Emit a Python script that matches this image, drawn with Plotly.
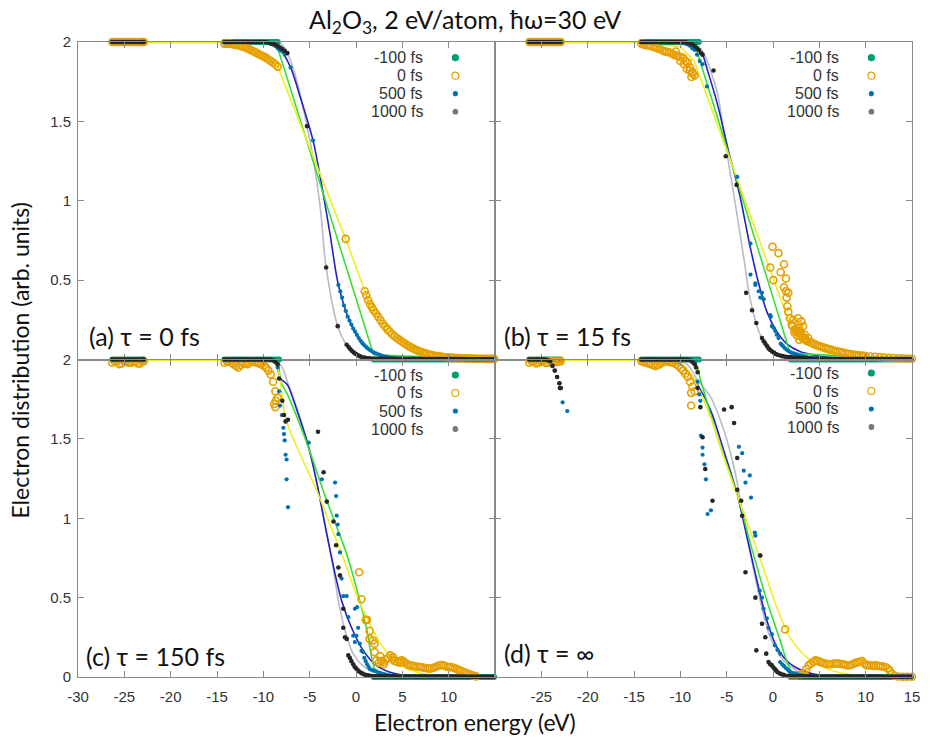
import plotly.graph_objects as go

# ---------------- shared energy grids (eV) ----------------
E_O2S = [-26.3, -26.05, -25.8, -25.55, -25.3, -25.05, -24.8, -24.55, -24.3, -24.05,
         -23.8, -23.55, -23.3, -23.05, -22.9]
E_VB = [-14.2, -13.95, -13.7, -13.45, -13.2, -12.95, -12.7, -12.45, -12.2, -11.95,
        -11.7, -11.45, -11.2, -10.95, -10.7, -10.45, -10.2, -9.95, -9.7, -9.45,
        -9.2, -8.95, -8.7, -8.45]
E_CB = [1.9, 2.15, 2.4, 2.65, 2.9, 3.15, 3.4, 3.65, 3.9, 4.15,
        4.4, 4.65, 4.9, 5.15, 5.4, 5.65, 5.9, 6.15, 6.4, 6.65,
        6.9, 7.15, 7.4, 7.65, 7.9, 8.15, 8.4, 8.65, 8.9, 9.15,
        9.4, 9.65, 9.9, 10.15, 10.4, 10.65, 10.9, 11.15, 11.4, 11.65,
        11.9, 12.15, 12.4, 12.65, 12.9, 13.15, 13.4, 13.65, 13.9, 14.15,
        14.4, 14.65, 14.9]

O2S_FULL = [2.0, 2.0, 2.0, 2.0, 2.0, 2.0, 2.0, 2.0, 2.0, 2.0, 2.0, 2.0, 2.0, 2.0, 2.0]
VB_FULL = [2.0, 2.0, 2.0, 2.0, 2.0, 2.0, 2.0, 2.0, 2.0, 2.0, 2.0, 2.0,
           2.0, 2.0, 2.0, 2.0, 2.0, 2.0, 2.0, 2.0, 2.0, 2.0, 2.0, 2.0]
CB_EMPTY = [0.0, 0.0, 0.0, 0.0, 0.0, 0.0, 0.0, 0.0, 0.0, 0.0,
            0.0, 0.0, 0.0, 0.0, 0.0, 0.0, 0.0, 0.0, 0.0, 0.0,
            0.0, 0.0, 0.0, 0.0, 0.0, 0.0, 0.0, 0.0, 0.0, 0.0,
            0.0, 0.0, 0.0, 0.0, 0.0, 0.0, 0.0, 0.0, 0.0, 0.0,
            0.0, 0.0, 0.0, 0.0, 0.0, 0.0, 0.0, 0.0, 0.0, 0.0,
            0.0, 0.0, 0.0]
CB_RESID = [0.004, 0.004, 0.004, 0.004, 0.004, 0.004, 0.004, 0.004, 0.004, 0.004,
            0.0035, 0.0035, 0.0035, 0.0035, 0.0035, 0.0035, 0.0035, 0.0035, 0.0035, 0.0035,
            0.003, 0.003, 0.003, 0.003, 0.003, 0.003, 0.003, 0.003, 0.003, 0.003,
            0.0025, 0.0025, 0.0025, 0.0025, 0.0025, 0.0025, 0.0025, 0.0025, 0.0025, 0.0025,
            0.002, 0.002, 0.002, 0.002, 0.002, 0.002, 0.002, 0.002, 0.002, 0.002,
            0.002, 0.002, 0.002]
CB_TAIL_40 = [0.003, 0.003, 0.003, 0.003, 0.003, 0.003, 0.003, 0.003, 0.003, 0.003,
              0.003, 0.003, 0.003, 0.003, 0.003, 0.003, 0.003, 0.003, 0.003, 0.003,
              0.003, 0.003, 0.003, 0.003, 0.003, 0.003, 0.003, 0.003, 0.003, 0.003,
              0.003, 0.003, 0.003, 0.003, 0.003, 0.003, 0.003, 0.003, 0.003, 0.003]

SERIES_NAMES = ["-100 fs", "0 fs", "500 fs", "1000 fs"]
PANEL_LABELS = ["(a) τ = 0 fs", "(b) τ = 15 fs", "(c) τ = 150 fs", "(d) τ = ∞"]
X_TICKS = [-30, -25, -20, -15, -10, -5, 0, 5, 10, 15]
Y_TICKS = [0, 0.5, 1, 1.5, 2]

# ---------------- panel (a) tau = 0 fs ----------------
A_M100_EDGE_X = [-8.6]
A_M100_EDGE_Y = [2.0]
A_0_VB_Y = [1.99, 1.99, 1.99, 1.988, 1.985, 1.982, 1.98, 1.975, 1.97, 1.965,
            1.96, 1.952, 1.945, 1.938, 1.93, 1.922, 1.915, 1.908, 1.90, 1.89,
            1.88, 1.87, 1.86, 1.845]
A_0_EDGE_X = [-1.12, 0.94, 1.1, 1.3, 1.5, 1.7]
A_0_EDGE_Y = [0.76, 0.43, 0.405, 0.375, 0.35, 0.33]
A_0_CB_Y = [0.31, 0.29, 0.27, 0.247, 0.225, 0.207, 0.19, 0.175, 0.16, 0.147,
            0.135, 0.125, 0.115, 0.105, 0.095, 0.086, 0.078, 0.07, 0.063, 0.056,
            0.05, 0.045, 0.04, 0.036, 0.032, 0.028, 0.025, 0.022, 0.02, 0.018,
            0.016, 0.0145, 0.013, 0.012, 0.011, 0.01, 0.009, 0.0085, 0.008, 0.0075,
            0.007, 0.0065, 0.006, 0.0055, 0.005, 0.005, 0.005, 0.0045, 0.004, 0.004,
            0.004, 0.004, 0.004]
A_500_VB_Y = [2.0, 2.0, 2.0, 2.0, 2.0, 2.0, 2.0, 2.0, 2.0, 2.0, 2.0, 2.0,
              2.0, 2.0, 2.0, 2.0, 2.0, 2.0, 1.998, 1.995, 1.99, 1.985, 1.975, 1.96]
A_500_EDGE_X = [-8.2, -7.95, -7.7, -7.06, -4.64, -1.9, -1.7, -1.5, -1.3, -1.1, -0.9, -0.7, -0.5,
                -0.3, -0.1, 0.1, 0.3, 0.5, 0.7, 0.9, 1.1, 1.3, 1.5, 1.7]
A_500_EDGE_Y = [1.95, 1.94, 1.92, 1.84, 1.38, 0.47, 0.43, 0.39, 0.34, 0.305, 0.27, 0.245, 0.22,
                0.195, 0.175, 0.155, 0.135, 0.118, 0.103, 0.09, 0.078, 0.068, 0.06, 0.052]
A_500_CB_Y = [0.045, 0.039, 0.033, 0.027, 0.022, 0.018, 0.015, 0.012, 0.010, 0.008,
              0.007, 0.006, 0.005] + CB_TAIL_40
A_1000_VB_Y = [2.0, 2.0, 2.0, 2.0, 2.0, 2.0, 2.0, 2.0, 2.0, 2.0, 2.0, 2.0,
               2.0, 2.0, 2.0, 2.0, 2.0, 2.0, 1.998, 1.995, 1.99, 1.988, 1.982, 1.975]
A_1000_EDGE_X = [-8.2, -7.95, -7.7, -7.4, -5.28, -3.22, -1.97, -1.01, -0.8, -0.6, -0.4, -0.2,
                 0.0, 0.2, 0.4, 0.6, 0.8, 1.0, 1.2, 1.4, 1.6]
A_1000_EDGE_Y = [1.965, 1.955, 1.945, 1.93, 1.47, 0.58, 0.21, 0.093, 0.078, 0.065, 0.052, 0.042,
                 0.034, 0.027, 0.021, 0.016, 0.012, 0.01, 0.008, 0.007, 0.006]

A_FIT_YEL_X = [-26.3, -14.2, -12.75, -10.97, -9.55, -8.48, -1.12, 0.94, 1.47, 2.4, 3.25, 4.2, 5.03, 6.0, 6.8, 8.6, 10.5, 12.1, 15.0]
A_FIT_YEL_Y = [1.995, 1.995, 1.98, 1.94, 1.90, 1.85, 0.76, 0.43, 0.35, 0.27, 0.20, 0.145, 0.114, 0.075, 0.05, 0.02, 0.01, 0.006, 0.004]
A_FIT_GRN_X = [-14.2, -8.6, 1.9, 15.0]
A_FIT_GRN_Y = [2.0, 1.99, 0.03, 0.0]
A_FIT_BLU_X = [-14.2, -9.2, -8.13, -7.06, -6.0, -4.64, -3.86, -2.8, -1.9, -0.66, 0.77, 2.9, 5.0, 15.0]
A_FIT_BLU_Y = [2.0, 2.0, 1.95, 1.84, 1.65, 1.38, 1.15, 0.79, 0.47, 0.24, 0.093, 0.02, 0.005, 0.0]
A_FIT_GRY_X = [-14.2, -8.5, -7.77, -6.7, -5.28, -4.57, -3.86, -3.22, -1.97, -1.01, 0.4, 2.2, 15.0]
A_FIT_GRY_Y = [2.0, 2.0, 1.97, 1.82, 1.47, 1.25, 0.96, 0.58, 0.21, 0.093, 0.02, 0.005, 0.0]

# ---------------- panel (b) tau = 15 fs ----------------
B_M100_EDGE_X = [-8.2, -8.0]
B_M100_EDGE_Y = [2.0, 2.0]
B_0_VB_Y = [1.99, 1.985, 1.98, 1.978, 1.975, 1.97, 1.965, 1.96, 1.955, 1.948,
            1.94, 1.938, 1.935, 1.928, 1.92, 1.915, 1.91, 1.905, 1.90, 1.88,
            1.87, 1.84, 1.81, 1.79]
B_0_EDGE_X = [-10.5, -10.0, -9.6, -9.3, -9.0, -8.8, -8.66]
B_0_EDGE_Y = [1.94, 1.88, 1.86, 1.83, 1.82, 1.78, 1.80]
B_0_CB_X = [-0.3, -0.05, 0.05, 0.59, 0.83, 1.19, 1.4, 1.19, 1.4, 1.65, 1.47, 1.55, 1.65, 1.83,
            2.19, 2.72, 3.07, 2.0, 2.54, 2.9, 3.25, 2.83, 3.43, 3.8, 2.3, 2.6, 3.1, 3.6,
            2.4, 2.7, 3.0, 3.3, 3.5, 3.7, 2.1, 2.45, 2.8, 3.15,
            4.0, 4.25, 4.5, 4.75, 5.0, 5.25, 5.5, 5.75, 6.0, 6.25, 6.5, 6.75, 7.0, 7.25, 7.5,
            7.75, 8.0, 8.25, 8.5, 8.75, 9.0, 9.25, 9.5, 9.75, 10.0, 10.5, 11.0, 11.5, 12.0,
            12.5, 13.0, 13.5, 14.0, 14.5, 15.0]
B_0_CB_Y = [0.58, 0.71, 0.50, 0.67, 0.55, 0.60, 0.51, 0.455, 0.43, 0.42, 0.39, 0.335, 0.30, 0.26,
            0.25, 0.26, 0.24, 0.22, 0.20, 0.18, 0.21, 0.125, 0.156, 0.135, 0.17, 0.15, 0.14, 0.12,
            0.19, 0.17, 0.16, 0.13, 0.125, 0.115, 0.21, 0.18, 0.2, 0.15,
            0.11, 0.104, 0.097, 0.09, 0.085, 0.08, 0.075, 0.071, 0.066, 0.062, 0.058, 0.054, 0.05,
            0.047, 0.044, 0.041, 0.038, 0.035, 0.032, 0.03, 0.028, 0.026, 0.025, 0.023, 0.022,
            0.019, 0.017, 0.015, 0.012, 0.01, 0.009, 0.008, 0.007, 0.006, 0.005]
B_500_VB_Y = [2.0, 2.0, 2.0, 2.0, 2.0, 2.0, 2.0, 2.0, 2.0, 2.0, 2.0, 2.0,
              2.0, 2.0, 2.0, 2.0, 2.0, 2.0, 1.995, 1.99, 1.985, 1.975, 1.96, 1.95]
B_500_EDGE_X = [-8.2, -7.9, -7.6, -7.13, -3.86, -2.43, -2.43, -1.9, -1.9, -1.55, -1.37, -1.19, -1.19,
                -1.01, -0.3, -0.23, -0.12, 0.05, 0.23, 0.4, 0.59, 0.83, 0.94, 1.1, 1.3, 1.5, 1.7]
B_500_EDGE_Y = [1.92, 1.88, 1.86, 1.72, 1.15, 0.73, 0.535, 0.48, 0.47, 0.43, 0.39, 0.42, 0.39,
                0.38, 0.28, 0.27, 0.21, 0.2, 0.18, 0.156, 0.135, 0.10, 0.093, 0.083, 0.07, 0.06, 0.052]
B_500_CB_Y = [0.045, 0.04, 0.035, 0.03, 0.025, 0.021, 0.018, 0.015, 0.012, 0.01,
              0.008, 0.007, 0.006] + CB_TAIL_40
B_1000_VB_Y = [2.0, 2.0, 2.0, 2.0, 2.0, 2.0, 2.0, 2.0, 2.0, 2.0, 2.0, 2.0,
               2.0, 2.0, 2.0, 2.0, 2.0, 2.0, 2.0, 1.998, 1.995, 1.99, 1.985, 1.975]
B_1000_EDGE_X = [-8.2, -8.0, -7.77, -7.6, -6.42, -5.1, -3.93, -2.9, -2.26, -1.8, -1.19, -1.0,
                 -0.83, -0.65, -0.48, -0.3, -0.1, 0.1, 0.3, 0.5, 0.77, 1.0, 1.3, 1.6]
B_1000_EDGE_Y = [1.96, 1.95, 1.93, 1.92, 1.82, 1.28, 1.10, 0.42, 0.31, 0.23, 0.135, 0.115,
                 0.10, 0.085, 0.07, 0.06, 0.05, 0.043, 0.035, 0.03, 0.025, 0.021, 0.018, 0.016]
B_1000_CB_Y = [0.015, 0.013, 0.012, 0.011, 0.01, 0.009, 0.008, 0.007, 0.006, 0.0055,
               0.005, 0.0045, 0.004] + CB_TAIL_40

B_FIT_YEL_X = [-26.3, -14.2, -10.0, -8.5, 1.47, 2.5, 4.0, 6.0, 9.0, 15.0]
B_FIT_YEL_Y = [1.995, 1.995, 1.97, 1.88, 0.28, 0.15, 0.08, 0.04, 0.015, 0.004]
B_FIT_GRN_X = [-14.2, -8.4, 1.85, 15.0]
B_FIT_GRN_Y = [2.0, 1.98, 0.04, 0.0]
B_FIT_BLU_X = [-14.2, -9.5, -8.5, -8.0, -7.6, -7.06, -6.0, -4.75, -3.68, -2.43, -1.55, -0.66, 0.4, 1.47, 2.9, 4.67, 6.8, 15.0]
B_FIT_BLU_Y = [2.0, 2.0, 1.98, 1.95, 1.92, 1.82, 1.61, 1.30, 1.06, 0.70, 0.48, 0.30, 0.177, 0.10, 0.05, 0.025, 0.01, 0.003]
B_FIT_GRY_X = [-14.2, -9.0, -8.0, -7.4, -6.0, -5.25, -4.29, -3.15, -2.43, -1.37, 0.05, 1.8, 15.0]
B_FIT_GRY_Y = [2.0, 2.0, 1.97, 1.92, 1.68, 1.40, 1.06, 0.64, 0.37, 0.156, 0.05, 0.012, 0.0]

# ---------------- panel (c) tau = 150 fs ----------------
C_M100_EDGE_X = [-8.3]
C_M100_EDGE_Y = [2.0]
C_0_O2S_Y = [1.98, 1.99, 1.99, 1.97, 1.975, 1.99, 1.99, 1.98, 1.98, 1.985, 1.985, 1.975, 1.975, 1.99, 1.99]
C_0_VB_Y = [1.98, 1.99, 1.99, 1.98, 1.97, 1.96, 1.95, 1.965, 1.98, 1.975,
            1.97, 1.98, 1.99, 1.985, 1.98, 1.975, 1.97, 1.96, 1.95, 1.93,
            1.905, 1.86, 1.80, 1.76]
C_0_EDGE_X = [-8.83, -8.65, -8.7, 0.34, 0.59, 1.05, 1.19, 1.47, 1.47, 1.83, 2.0, 2.0,
              2.6, 3.0, 4.0, 4.8]
C_0_EDGE_Y = [1.72, 1.74, 1.70, 0.66, 0.49, 0.36, 0.36, 0.29, 0.24, 0.23, 0.21, 0.157,
              0.13, 0.08, 0.125, 0.09]
C_0_CB_X = [2.2, 2.45, 2.7, 2.95, 3.2, 3.45, 3.7, 3.95, 4.2, 4.45,
            4.7, 4.95, 5.2, 5.45, 5.7, 5.95, 6.2, 6.45, 6.7, 6.95,
            7.2, 7.45, 7.7, 7.95, 8.2, 8.45, 8.7, 8.95, 9.2, 9.45,
            9.7, 9.95, 10.2, 10.45, 10.7, 10.95, 11.2, 11.45, 11.7, 11.95,
            12.2, 12.45, 12.7, 12.95]
C_0_CB_Y = [0.105, 0.09, 0.1, 0.094, 0.11, 0.12, 0.136, 0.11, 0.1, 0.094,
            0.1, 0.105, 0.095, 0.085, 0.075, 0.072, 0.07, 0.066, 0.064, 0.063,
            0.06, 0.057, 0.055, 0.053, 0.055, 0.06, 0.066, 0.072, 0.075, 0.074,
            0.068, 0.063, 0.062, 0.06, 0.055, 0.048, 0.042, 0.036, 0.03, 0.024,
            0.019, 0.013, 0.008, 0.004]
C_500_VB_Y = [2.0, 2.0, 2.0, 2.0, 2.0, 2.0, 2.0, 2.0, 2.0, 2.0, 2.0, 2.0,
              2.0, 2.0, 2.0, 2.0, 2.0, 2.0, 2.0, 2.0, 2.0, 1.995, 1.99, 1.95]
C_500_EDGE_X = [-8.3, -8.2, -8.0, -7.84, -7.77, -7.7, -7.6, -7.49, -7.49, -7.34, -5.1, -3.68, -2.26,
                -2.15, -2.08, -1.97, -1.9, -1.73, -1.55, -1.37, -1.01, -0.83, -0.12, -0.3, 0.05,
                -0.12, 0.23, 0.4, 0.12, 0.77, 0.59, 0.9, 1.05, 1.2, 1.35, 1.5, 1.7]
C_500_EDGE_Y = [1.80, 1.71, 1.65, 1.57, 1.53, 1.49, 1.40, 1.37, 1.245, 1.07, 1.476, 1.245, 1.225,
                1.14, 1.016, 0.96, 0.90, 0.785, 0.62, 0.51, 0.51, 0.377, 0.43, 0.26, 0.26,
                0.22, 0.31, 0.21, 0.44, 0.157, 0.165, 0.12, 0.1, 0.08, 0.065, 0.05, 0.045]
C_500_CB_Y = [0.04, 0.035, 0.03, 0.025, 0.02, 0.016, 0.012, 0.01, 0.008, 0.007,
              0.006, 0.005, 0.005] + CB_TAIL_40
C_1000_VB_Y = [2.0, 2.0, 2.0, 2.0, 2.0, 2.0, 2.0, 2.0, 2.0, 2.0, 2.0, 2.0,
               2.0, 2.0, 2.0, 2.0, 2.0, 2.0, 2.0, 2.0, 1.998, 1.995, 1.985, 1.97]
C_1000_EDGE_X = [-8.3, -7.95, -7.77, -7.6, -7.34, -4.1, -3.5, -3.15, -2.43, -2.15, -1.9, -1.73,
                 -1.37, -1.37, -1.19, -1.0, -0.83, -0.66, -0.5, -0.3, -0.15, 0.0, 0.15, 0.3,
                 0.5, 0.7, 0.9, 1.1, 1.3, 1.6]
C_1000_EDGE_Y = [1.88, 1.74, 1.65, 1.61, 1.62, 1.545, 1.29, 1.105, 0.98, 0.83, 0.69, 0.64,
                 0.43, 0.31, 0.25, 0.24, 0.136, 0.12, 0.1, 0.08, 0.065, 0.055, 0.045, 0.036,
                 0.028, 0.021, 0.016, 0.012, 0.01, 0.008]

C_FIT_YEL_X = [-26.3, -14.2, -9.2, -8.5, -7.6, -6.0, -4.2, -2.8, -1.37, 0.05, 1.47, 2.9, 4.3, 6.45, 8.6, 15.0]
C_FIT_YEL_Y = [1.995, 1.995, 1.99, 1.95, 1.63, 1.40, 1.17, 0.96, 0.75, 0.52, 0.335, 0.19, 0.094, 0.031, 0.01, 0.0]
C_FIT_GRN_X = [-14.2, -8.6, -8.13, -7.4, -5.28, -3.15, -1.01, 0.23, 1.12, 1.76, 2.19, 3.25, 15.0]
C_FIT_GRN_Y = [2.0, 1.99, 1.86, 1.78, 1.47, 1.11, 0.775, 0.52, 0.31, 0.105, 0.031, 0.01, 0.0]
C_FIT_BLU_X = [-14.2, -9.0, -8.5, -8.13, -7.4, -6.35, -5.1, -4.2, -3.15, -2.26, -1.55, -0.48, 0.77, 2.19, 3.6, 5.35, 15.0]
C_FIT_BLU_Y = [2.0, 2.0, 1.95, 1.88, 1.84, 1.675, 1.445, 1.215, 0.90, 0.65, 0.48, 0.31, 0.168, 0.073, 0.031, 0.01, 0.0]
C_FIT_GRY_X = [-14.2, -9.0, -8.2, -7.8, -7.4, -6.0, -4.57, -3.5, -2.6, -1.9, -1.19, -0.3, 1.12, 2.9, 15.0]
C_FIT_GRY_Y = [2.0, 2.0, 1.97, 1.93, 1.86, 1.63, 1.32, 1.005, 0.733, 0.48, 0.293, 0.147, 0.053, 0.021, 0.0]

# ---------------- panel (d) tau = infinity ----------------
D_M100_EDGE_X = [-8.2, -8.0]
D_M100_EDGE_Y = [2.0, 2.0]
D_0_O2S_Y = [1.98, 1.99, 1.99, 1.975, 1.98, 1.99, 1.99, 1.98, 1.98, 1.99, 1.99, 1.985, 1.985, 1.99, 1.99]
D_0_VB_Y = [1.99, 1.985, 1.98, 1.975, 1.97, 1.965, 1.96, 1.965, 1.97, 1.98,
            1.99, 1.99, 1.985, 1.982, 1.98, 1.97, 1.96, 1.945, 1.93, 1.91,
            1.89, 1.86, 1.83, 1.80]
D_0_EDGE_X = [-8.83, -8.83, 1.3, 2.0, 2.5, 3.0, 3.3]
D_0_EDGE_Y = [1.79, 1.71, 0.30, 0.01, 0.01, 0.015, 0.025]
D_0_CB_X = [3.6, 3.85, 4.1, 4.35, 4.6, 4.85, 5.1, 5.35, 5.6, 5.85,
            6.1, 6.35, 6.6, 6.85, 7.1, 7.35, 7.6, 7.85, 8.1, 8.35,
            8.6, 8.85, 9.1, 9.35, 9.6, 9.85, 10.1, 10.35, 10.6, 10.85,
            11.1, 11.35, 11.6, 11.85, 12.1, 12.35, 12.6, 12.85, 13.1,
            13.5, 14.0, 14.5, 15.0]
D_0_CB_Y = [0.05, 0.073, 0.085, 0.095, 0.105, 0.1, 0.095, 0.09, 0.085, 0.082,
            0.08, 0.082, 0.085, 0.085, 0.084, 0.082, 0.08, 0.076, 0.073, 0.076,
            0.08, 0.088, 0.092, 0.096, 0.1, 0.085, 0.073, 0.075, 0.072, 0.07,
            0.073, 0.07, 0.068, 0.066, 0.063, 0.055, 0.04, 0.02, 0.006,
            0.003, 0.002, 0.002, 0.002]
D_LOW_O2S_Y = [2.0, 2.0, 2.0, 2.0, 2.0, 2.0, 2.0, 2.0, 1.995, 1.99, 1.96, 1.93, 1.89, 1.85, 1.82]
D_500_VB_Y = [2.0, 2.0, 2.0, 2.0, 2.0, 2.0, 2.0, 2.0, 2.0, 2.0, 2.0, 2.0,
              2.0, 2.0, 2.0, 2.0, 2.0, 2.0, 2.0, 2.0, 2.0, 2.0, 1.995, 1.98]
D_500_EDGE_X = [-22.7, -22.2, -8.13, -7.95, -7.84, -7.77, -7.6, -7.6, -7.4, -7.24, -7.06, -6.7, -3.68,
                -3.33, -3.15, -2.5, -2.97, -2.37, -1.97, -1.9, -1.44, -1.44, -1.19, -1.01, -0.66,
                -0.48, -0.12, 0.2, 0.5, 0.77, 0.77, 1.0, 1.2, 1.4, 1.6, 1.8]
D_500_EDGE_Y = [1.73, 1.675, 1.86, 1.78, 1.74, 1.52, 1.445, 1.40, 1.34, 1.245, 1.026, 1.05, 1.45,
                1.41, 1.30, 1.27, 1.225, 1.13, 0.91, 0.89, 0.765, 0.545, 0.50, 0.43, 0.37,
                0.31, 0.27, 0.2, 0.17, 0.147, 0.094, 0.08, 0.068, 0.055, 0.045, 0.035]
D_500_CB_Y = [0.03, 0.025, 0.02, 0.016, 0.012, 0.01, 0.008, 0.006, 0.005, 0.004,
              0.003, 0.003, 0.003] + CB_TAIL_40
D_1000_VB_Y = [2.0, 2.0, 2.0, 2.0, 2.0, 2.0, 2.0, 2.0, 2.0, 2.0, 2.0, 2.0,
               2.0, 2.0, 2.0, 2.0, 2.0, 2.0, 2.0, 2.0, 1.998, 1.995, 1.985, 1.97]
D_1000_EDGE_X = [-23.0, -8.3, -8.13, -8.13, -7.84, -7.6, -7.31, -6.53, -5.28, -4.46, -4.2, -3.86,
                 -3.86, -3.43, -3.33, -1.37, -2.97, -1.9, -1.19, -0.83, -1.8, -0.73, -0.48, -0.3,
                 -0.12, 0.05, 0.2, 0.35, 0.5, 0.77, 1.0, 1.2, 1.6]
D_1000_EDGE_Y = [1.82, 1.95, 1.92, 1.82, 1.70, 1.51, 1.31, 1.11, 1.685, 1.70, 1.60, 1.38,
                 1.18, 1.11, 1.016, 0.765, 0.66, 0.50, 0.335, 0.25, 0.168, 0.147, 0.094, 0.08,
                 0.073, 0.06, 0.05, 0.04, 0.03, 0.021, 0.016, 0.012, 0.006]

D_FIT_YEL_X = [-26.3, -14.2, -10.3, -8.83, -6.7, -5.28, -3.9, -2.08, -0.83, 0.4, 1.83, 3.6, 5.03, 7.0, 9.0, 15.0]
D_FIT_YEL_Y = [1.995, 1.995, 1.99, 1.905, 1.63, 1.38, 1.15, 0.86, 0.65, 0.44, 0.25, 0.126, 0.073, 0.03, 0.01, 0.0]
D_FIT_GRN_X = [-14.2, -8.5, -7.77, -6.0, -3.86, -2.43, -0.66, 0.77, 1.47, 2.0, 2.9, 15.0]
D_FIT_GRN_Y = [2.0, 1.98, 1.86, 1.51, 1.15, 0.84, 0.48, 0.23, 0.105, 0.031, 0.01, 0.0]
D_FIT_BLU_X = [-14.2, -10.3, -9.55, -8.13, -6.7, -5.28, -3.86, -2.8, -1.9, -0.66, 0.4, 1.83, 3.6, 5.4, 15.0]
D_FIT_BLU_Y = [2.0, 1.98, 1.95, 1.84, 1.675, 1.42, 1.15, 0.88, 0.65, 0.356, 0.19, 0.084, 0.031, 0.01, 0.0]
D_FIT_GRY_X = [-14.2, -9.5, -8.13, -6.7, -5.28, -4.2, -3.33, -2.43, -1.37, -0.3, 1.12, 2.9, 4.7, 15.0]
D_FIT_GRY_Y = [2.0, 1.98, 1.87, 1.76, 1.55, 1.32, 1.05, 0.775, 0.48, 0.25, 0.105, 0.031, 0.01, 0.0]

# ---------------- assemble series per panel ----------------
PANELS = [
    dict(
        pts=[
            (E_O2S + E_VB + A_M100_EDGE_X + E_CB, O2S_FULL + VB_FULL + A_M100_EDGE_Y + CB_EMPTY),
            (E_O2S + E_VB + A_0_EDGE_X + E_CB, O2S_FULL + A_0_VB_Y + A_0_EDGE_Y + A_0_CB_Y),
            (E_O2S + E_VB + A_500_EDGE_X + E_CB, O2S_FULL + A_500_VB_Y + A_500_EDGE_Y + A_500_CB_Y),
            (E_O2S + E_VB + A_1000_EDGE_X + E_CB, O2S_FULL + A_1000_VB_Y + A_1000_EDGE_Y + CB_RESID),
        ],
        fits=[(A_FIT_GRY_X, A_FIT_GRY_Y, "spline"), (A_FIT_BLU_X, A_FIT_BLU_Y, "spline"),
              (A_FIT_GRN_X, A_FIT_GRN_Y, "linear"), (A_FIT_YEL_X, A_FIT_YEL_Y, "linear")],
    ),
    dict(
        pts=[
            (E_O2S + E_VB + B_M100_EDGE_X + E_CB, O2S_FULL + VB_FULL + B_M100_EDGE_Y + CB_EMPTY),
            (E_O2S + E_VB + B_0_EDGE_X + B_0_CB_X, O2S_FULL + B_0_VB_Y + B_0_EDGE_Y + B_0_CB_Y),
            (E_O2S + E_VB + B_500_EDGE_X + E_CB, O2S_FULL + B_500_VB_Y + B_500_EDGE_Y + B_500_CB_Y),
            (E_O2S + E_VB + B_1000_EDGE_X + E_CB, O2S_FULL + B_1000_VB_Y + B_1000_EDGE_Y + B_1000_CB_Y),
        ],
        fits=[(B_FIT_GRY_X, B_FIT_GRY_Y, "spline"), (B_FIT_BLU_X, B_FIT_BLU_Y, "spline"),
              (B_FIT_GRN_X, B_FIT_GRN_Y, "linear"), (B_FIT_YEL_X, B_FIT_YEL_Y, "linear")],
    ),
    dict(
        pts=[
            (E_O2S + E_VB + C_M100_EDGE_X + E_CB, O2S_FULL + VB_FULL + C_M100_EDGE_Y + CB_EMPTY),
            (E_O2S + E_VB + C_0_EDGE_X + C_0_CB_X, C_0_O2S_Y + C_0_VB_Y + C_0_EDGE_Y + C_0_CB_Y),
            (E_O2S + E_VB + C_500_EDGE_X + E_CB, O2S_FULL + C_500_VB_Y + C_500_EDGE_Y + C_500_CB_Y),
            (E_O2S + E_VB + C_1000_EDGE_X + E_CB, O2S_FULL + C_1000_VB_Y + C_1000_EDGE_Y + CB_RESID),
        ],
        fits=[(C_FIT_GRY_X, C_FIT_GRY_Y, "spline"), (C_FIT_BLU_X, C_FIT_BLU_Y, "spline"),
              (C_FIT_GRN_X, C_FIT_GRN_Y, "spline"), (C_FIT_YEL_X, C_FIT_YEL_Y, "spline")],
    ),
    dict(
        pts=[
            (E_O2S + E_VB + D_M100_EDGE_X + E_CB, O2S_FULL + VB_FULL + D_M100_EDGE_Y + CB_EMPTY),
            (E_O2S + E_VB + D_0_EDGE_X + D_0_CB_X, D_0_O2S_Y + D_0_VB_Y + D_0_EDGE_Y + D_0_CB_Y),
            (E_O2S + E_VB + D_500_EDGE_X + E_CB, D_LOW_O2S_Y + D_500_VB_Y + D_500_EDGE_Y + D_500_CB_Y),
            (E_O2S + E_VB + D_1000_EDGE_X + E_CB, D_LOW_O2S_Y + D_1000_VB_Y + D_1000_EDGE_Y + CB_RESID),
        ],
        fits=[(D_FIT_GRY_X, D_FIT_GRY_Y, "spline"), (D_FIT_BLU_X, D_FIT_BLU_Y, "spline"),
              (D_FIT_GRN_X, D_FIT_GRN_Y, "spline"), (D_FIT_YEL_X, D_FIT_YEL_Y, "spline")],
    ),
]

for _p in PANELS:
    for _x, _y in _p["pts"]:
        assert len(_x) == len(_y), (len(_x), len(_y))
    for _x, _y, _s in _p["fits"]:
        assert len(_x) == len(_y), (len(_x), len(_y))

# ---------------- styles ----------------
FIT_COLORS = ["#b9b9c9", "#2222c4", "#33e033", "#eeee22"]
MARKER_STYLES = [
    dict(color="#009e73", size=6, symbol="circle"),
    dict(color="#e69f00", size=7, symbol="circle-open", line=dict(width=1.6)),
    dict(color="#0072b2", size=4.2, symbol="circle"),
    dict(color="#262626", size=4.6, symbol="circle"),
]

AXIS_COLOR = "#8a8a8a"
TICK_FONT = dict(family="Liberation Sans, Arial, sans-serif", size=15, color="#333333")
CAL_FONT = "Lato, Carlito, Calibri, sans-serif"

fig = go.Figure()

for k, panel in enumerate(PANELS):
    xa = "x" if k == 0 else "x%d" % (k + 1)
    ya = "y" if k == 0 else "y%d" % (k + 1)
    for (fx, fy, shape), col in zip(panel["fits"], FIT_COLORS):
        fig.add_trace(go.Scatter(x=fx, y=fy, mode="lines", xaxis=xa, yaxis=ya,
                                 line=dict(color=col, width=1.6, shape=shape, smoothing=0.9),
                                 cliponaxis=False, hoverinfo="skip", showlegend=False))
    for (px, py), st, nm in zip(panel["pts"], MARKER_STYLES, SERIES_NAMES):
        fig.add_trace(go.Scatter(x=px, y=py, mode="markers", xaxis=xa, yaxis=ya, name=nm,
                                 marker=st, cliponaxis=False, showlegend=False))

X_DOMAINS = [[0, 0.5], [0.5, 1], [0, 0.5], [0.5, 1]]
Y_DOMAINS = [[0.5, 1], [0.5, 1], [0, 0.5], [0, 0.5]]
layout_axes = {}
for k in range(4):
    xs = "xaxis" if k == 0 else "xaxis%d" % (k + 1)
    ys = "yaxis" if k == 0 else "yaxis%d" % (k + 1)
    xa = "x" if k == 0 else "x%d" % (k + 1)
    ya = "y" if k == 0 else "y%d" % (k + 1)
    bottom = k >= 2
    left = k in (0, 2)
    if k == 2:
        xt = [str(v) for v in X_TICKS[:-1]] + [" "]
    elif k == 3:
        xt = [" "] + [str(v) for v in X_TICKS[1:]]
    else:
        xt = [str(v) for v in X_TICKS]
    if k == 0:
        yt = [" "] + [("%g" % v) for v in Y_TICKS[1:]]
    else:
        yt = [("%g" % v) for v in Y_TICKS]
    layout_axes[xs] = dict(domain=X_DOMAINS[k], anchor=ya, range=[-30, 15], tickmode="array",
                           tickvals=X_TICKS, ticktext=xt, ticks="inside", ticklen=6,
                           tickcolor=AXIS_COLOR, showline=True, linecolor=AXIS_COLOR, linewidth=1,
                           mirror="allticks", showgrid=False, zeroline=False,
                           showticklabels=bottom, tickfont=TICK_FONT, ticklabelstandoff=6)
    layout_axes[ys] = dict(domain=Y_DOMAINS[k], anchor=xa, range=[0, 2], tickmode="array",
                           tickvals=Y_TICKS, ticktext=yt, ticks="inside", ticklen=6,
                           tickcolor=AXIS_COLOR, showline=True, linecolor=AXIS_COLOR, linewidth=1,
                           mirror="allticks", showgrid=False, zeroline=False,
                           showticklabels=left, tickfont=TICK_FONT, ticklabelstandoff=3)

fig.update_layout(width=930, height=738, margin=dict(l=78, r=10, t=42, b=61),
                  plot_bgcolor="white", paper_bgcolor="white", showlegend=False, **layout_axes)

W, H, L, B = 842.0, 635.0, 78.0, 61.0


def px2paper(px, py):
    return (px - L) / W, (738.0 - B - py) / H


annotations = []
shapes = []

# title and axis titles
tx, ty = px2paper(469, 21)
annotations.append(dict(text="Al<sub>2</sub>O<sub>3</sub>, 2 eV/atom, ħω=30 eV", x=tx, y=ty,
                        xref="paper", yref="paper", xanchor="center", yanchor="middle",
                        showarrow=False, font=dict(family=CAL_FONT, size=25, color="#111111")))
tx, ty = px2paper(19, 360)
annotations.append(dict(text="Electron distribution (arb. units)", x=tx, y=ty, textangle=-90,
                        xref="paper", yref="paper", xanchor="center", yanchor="middle",
                        showarrow=False, font=dict(family=CAL_FONT, size=23, color="#111111")))
tx, ty = px2paper(479, 722)
annotations.append(dict(text="Electron energy (eV)", x=tx, y=ty,
                        xref="paper", yref="paper", xanchor="center", yanchor="middle",
                        showarrow=False, font=dict(family=CAL_FONT, size=23, color="#111111")))

# panel labels
LABEL_POS = [(87, 336), (506, 336), (84, 656), (506, 653)]
for lab, (lx, ly) in zip(PANEL_LABELS, LABEL_POS):
    tx, ty = px2paper(lx, ly)
    annotations.append(dict(text=lab, x=tx, y=ty, xref="paper", yref="paper", xanchor="left",
                            yanchor="middle", showarrow=False,
                            font=dict(family=CAL_FONT, size=25, color="#111111")))

# per-panel key (text left of symbol, gnuplot style)
KEY_POS = [(428, 459, 57.7), (848, 879, 57.7), (428, 459, 375), (848, 879, 373)]
KEY_SYMBOLS = [("#009e73", "#009e73", 3.0), ("rgba(0,0,0,0)", "#e69f00", 3.5),
               ("#0072b2", "#0072b2", 2.0), ("#777777", "#777777", 2.3)]
for (trx, mx, y0) in KEY_POS:
    for i, nm in enumerate(SERIES_NAMES):
        ry = y0 + 18 * i
        tx, ty = px2paper(trx, ry)
        annotations.append(dict(text=nm, x=tx, y=ty, xref="paper", yref="paper", xanchor="right",
                                yanchor="middle", showarrow=False,
                                font=dict(family="Liberation Sans, Arial, sans-serif", size=16,
                                          color="#333333")))
        fill, edge, r = KEY_SYMBOLS[i]
        cx, cy = px2paper(mx, ry)
        shapes.append(dict(type="circle", xref="paper", yref="paper",
                           x0=cx - r / W, x1=cx + r / W, y0=cy - r / H, y1=cy + r / H,
                           fillcolor=fill, line=dict(color=edge, width=1.2)))

fig.update_layout(annotations=annotations, shapes=shapes)
fig.write_html("out.html")
